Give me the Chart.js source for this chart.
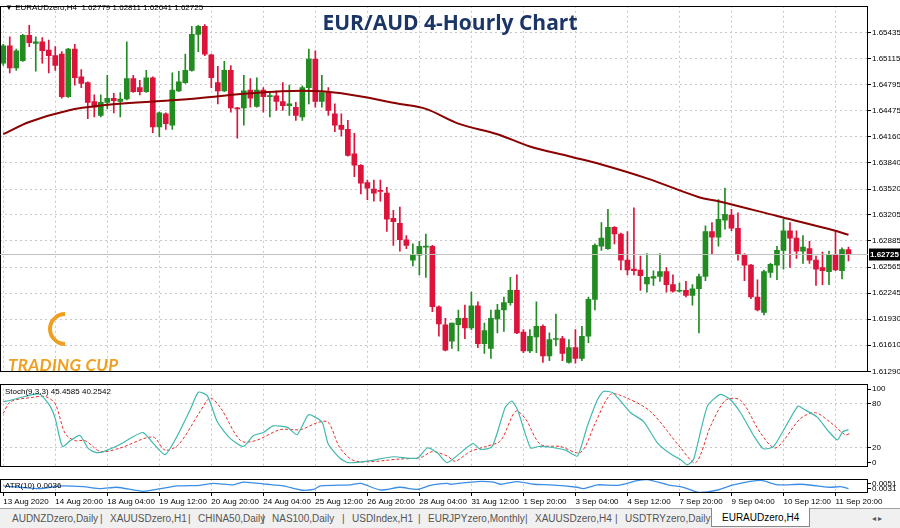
<!DOCTYPE html>
<html>
<head>
<meta charset="utf-8">
<script src="https://cdn.jsdelivr.net/npm/chart.js@4.4.1/dist/chart.umd.min.js"></script>
<style>
  body { margin:0; width:900px; height:528px; background:#fff; overflow:hidden; font-family:"Liberation Sans", sans-serif; }
  .cv { position:absolute; left:0; width:900px; }
  #title { position:absolute; left:0; width:900px; top:8px; text-align:center; font:bold 21px "Open Sans", sans-serif; color:#1b3566; }
  #hdr { position:absolute; left:5px; top:3px; font-size:8px; color:#000; }
  #logo { position:absolute; left:8px; top:354px; font:italic bold 17px "Lato", sans-serif; color:#f0a020; letter-spacing:0.3px; }
  #logoMark { position:absolute; left:48px; top:312px; width:26px; height:26px; border-radius:50%; border:4px solid #f0a020; border-right-color:transparent; border-top-color:transparent; transform:rotate(45deg); }
  #tabs { position:absolute; left:0; top:508px; width:900px; height:20px; background:#f0f0f0; border-top:1px solid #a0a0a0; font:10px "Liberation Sans", sans-serif; color:#555; }
  #tabs span { position:absolute; top:4px; }
  #tabs .act { top:-1px; background:#fff; border:1px solid #888; border-top:none; padding:4px 10px 3px 10px; color:#000; }
</style>
</head>
<body>
<canvas id="mainChart" class="cv" style="top:0;height:378px" width="900" height="378"></canvas>
<canvas id="stochChart" class="cv" style="top:378px;height:95px" width="900" height="95"></canvas>
<canvas id="atrChart" class="cv" style="top:473px;height:35px" width="900" height="35"></canvas>
<div id="hdr">▼ EURAUDzero,H4 &nbsp;1.62779 1.62811 1.62641 1.62725</div>
<div id="title">EUR/AUD 4-Hourly Chart</div>
<div id="logoMark"></div>
<div id="logo">TRADING CUP</div>
<div id="tabs"></div>
<script>
// ===== Data (4-hour candles, 13 Aug 2020 - 11 Sep 2020) =====
const openP = [1.6506,1.6527,1.6500,1.6509,1.6540,1.6530,1.6532,1.6522,1.6515,1.6517,1.6465,1.6523,1.6489,1.6482,1.6459,1.6442,1.6458,1.6463,1.6459,1.6462,
  1.6487,1.6476,1.6471,1.6488,1.6428,1.6444,1.6430,1.6472,1.6482,1.6497,1.6541,1.6551,1.6516,1.6482,1.6472,1.6497,1.6451,1.6451,1.6473,1.6453,
  1.6473,1.6465,1.6466,1.6459,1.6454,1.6452,1.6440,1.6476,1.6511,1.6459,1.6470,1.6444,1.6430,1.6425,1.6395,1.6381,1.6360,1.6352,1.6350,1.6347,
  1.6316,1.6310,1.6290,1.6265,1.6271,1.6281,1.6282,1.6208,1.6186,1.6166,1.6186,1.6194,1.6182,1.6209,1.6163,1.6157,1.6193,1.6204,1.6213,1.6228,
  1.6177,1.6154,1.6171,1.6184,1.6148,1.6168,1.6169,1.6140,1.6158,1.6145,1.6172,1.6217,1.6282,1.6279,1.6305,1.6297,1.6265,1.6254,1.6253,1.6236,
  1.6243,1.6245,1.6251,1.6235,1.6227,1.6228,1.6222,1.6230,1.6245,1.6300,1.6293,1.6314,1.6320,1.6304,1.6272,1.6259,1.6220,1.6201,1.6250,1.6259,
  1.6277,1.6301,1.6292,1.6276,1.6279,1.6265,1.6256,1.6251,1.6271,1.6252,1.62779];
const highP = [1.6529,1.6538,1.6523,1.6541,1.6552,1.6538,1.6537,1.6534,1.6526,1.6520,1.6524,1.6529,1.6498,1.6483,1.6467,1.6467,1.6491,1.6469,1.6470,1.6532,
  1.6491,1.6485,1.6497,1.6489,1.6446,1.6445,1.6494,1.6496,1.6517,1.6551,1.6552,1.6553,1.6517,1.6502,1.6508,1.6503,1.6452,1.6491,1.6487,1.6488,
  1.6476,1.6470,1.6472,1.6482,1.6479,1.6458,1.6478,1.6523,1.6521,1.6491,1.6476,1.6456,1.6444,1.6436,1.6420,1.6382,1.6363,1.6363,1.6363,1.6354,
  1.6326,1.6330,1.6295,1.6285,1.6288,1.6297,1.6283,1.6209,1.6194,1.6188,1.6204,1.6210,1.6226,1.6214,1.6188,1.6204,1.6211,1.6220,1.6244,1.6247,
  1.6180,1.6180,1.6214,1.6186,1.6176,1.6199,1.6172,1.6168,1.6180,1.6184,1.6220,1.6285,1.6311,1.6327,1.6306,1.6298,1.6300,1.6329,1.6270,1.6273,
  1.6252,1.6273,1.6256,1.6247,1.6237,1.6239,1.6235,1.6248,1.6307,1.6311,1.6339,1.6353,1.6327,1.6323,1.6273,1.6260,1.6241,1.6253,1.6261,1.6282,
  1.6315,1.6311,1.6301,1.6295,1.6288,1.6270,1.6275,1.6276,1.6300,1.6280,1.62811];
const lowP = [1.6503,1.6494,1.6497,1.6508,1.6526,1.6496,1.6506,1.6494,1.6497,1.6463,1.6464,1.6479,1.6476,1.6438,1.6440,1.6440,1.6450,1.6445,1.6440,1.6461,
  1.6470,1.6467,1.6470,1.6421,1.6416,1.6425,1.6425,1.6471,1.6481,1.6496,1.6520,1.6515,1.6476,1.6456,1.6471,1.6446,1.6414,1.6430,1.6452,1.6452,
  1.6446,1.6440,1.6448,1.6448,1.6442,1.6436,1.6436,1.6456,1.6452,1.6452,1.6442,1.6422,1.6417,1.6392,1.6367,1.6346,1.6339,1.6337,1.6337,1.6300,
  1.6283,1.6276,1.6279,1.6258,1.6247,1.6244,1.6202,1.6172,1.6154,1.6157,1.6154,1.6169,1.6180,1.6158,1.6151,1.6145,1.6176,1.6178,1.6210,1.6175,
  1.6152,1.6152,1.6152,1.6140,1.6142,1.6160,1.6142,1.6139,1.6139,1.6142,1.6164,1.6204,1.6277,1.6278,1.6285,1.6253,1.6247,1.6247,1.6228,1.6226,
  1.6234,1.6239,1.6226,1.6226,1.6226,1.6220,1.6210,1.6176,1.6240,1.6272,1.6282,1.6303,1.6301,1.6265,1.6240,1.6218,1.6203,1.6198,1.6244,1.6241,
  1.6254,1.6256,1.6267,1.6261,1.6261,1.6234,1.6235,1.6235,1.6252,1.6242,1.62641];
const closeP = [1.6527,1.6500,1.6521,1.6540,1.6531,1.6532,1.6521,1.6515,1.6503,1.6465,1.6523,1.6488,1.6481,1.6458,1.6452,1.6458,1.6463,1.6460,1.6462,1.6487,
  1.6471,1.6471,1.6488,1.6428,1.6445,1.6432,1.6473,1.6483,1.6497,1.6541,1.6551,1.6517,1.6488,1.6472,1.6497,1.6451,1.6450,1.6472,1.6463,1.6473,
  1.6465,1.6466,1.6459,1.6454,1.6456,1.6442,1.6476,1.6511,1.6459,1.6470,1.6448,1.6430,1.6425,1.6393,1.6381,1.6359,1.6353,1.6347,1.6349,1.6315,
  1.6312,1.6290,1.6283,1.6272,1.6282,1.6282,1.6208,1.6187,1.6155,1.6188,1.6194,1.6182,1.6209,1.6163,1.6179,1.6194,1.6204,1.6213,1.6228,1.6176,
  1.6154,1.6172,1.6184,1.6148,1.6168,1.6169,1.6151,1.6158,1.6145,1.6172,1.6217,1.6283,1.6292,1.6305,1.6297,1.6265,1.6253,1.6252,1.6246,1.6244,
  1.6245,1.6251,1.6235,1.6227,1.6228,1.6222,1.6230,1.6245,1.6300,1.6293,1.6315,1.6321,1.6304,1.6272,1.6259,1.6220,1.6204,1.6251,1.6260,1.6277,
  1.6301,1.6292,1.6276,1.6281,1.6265,1.6254,1.6252,1.6271,1.6253,1.6278,1.62725];

// moving average (bar index, price)
const maIdx = [0,4,10,15,23,30,38,46,52,61,65,70,76,81,87,92,99,107,110,119,127,130];
const maVal = [1.6419,1.6434,1.6448,1.6454,1.6459,1.6463,1.6469,1.6472,1.6469,1.6456,1.6450,1.6432,1.6419,1.6404,1.6392,1.6382,1.6365,1.6342,1.6337,1.6319,1.6303,1.6296];

// Stochastic %K and %D (bar index, value)
const stochKIdx = [0,1.1,4.6,5.7,7.2,8,9.1,10.3,11.8,13.1,14.2,15.4,18,19.5,21.5,23,24.9,26.8,28.8,30,31.4,32.9,34.9,36.9,38.5,40,41.5,43.7,45.2,46.9,48,49.1,50,51.8,53,56,60,63.7,65.2,66.8,68.3,
  72.2,73.4,75.2,77.2,78.2,79.1,81.1,82.3,84.2,86.5,88.3,89.8,91.4,92.3,93.8,96.5,98.5,100.6,102.6,104.2,105.2,106.2,108.3,110.3,111.8,113.4,115.4,116.9,118.5,122.2,123.1,125.2,126.8,128.3,129.1,130];
const stochKVal = [83,85,93,93,77,60,22,30,37,19,14,15,25,33,41,27,11,37,73,96,91,56,33,22,37,41,50,48,38,65,62,54,25,6,0,2,8,6,20,13,0,
  26,18,22,75,84,72,20,22,21,17,9,49,86,97,95,68,56,27,12,4,-3,5,77,93,86,68,37,19,22,77,73,62,44,31,42,45];
const stochDIdx = [0,1.1,4.6,6.5,8,9.5,11,12.6,15,18,23,24.9,27,30.3,31.8,33.4,36.5,38.8,42.6,45.7,48.5,50,51.8,54.2,61.1,64.2,66,68.3,69.5,71.8,74.2,76.5,78.8,80.3,82.6,85.7,88.8,91.1,93.4,95.4,99.5,104.2,106.5,108.8,111.1,113.4,116.5,118.8,122.6,124.9,127.2,129.5,130.3];
const stochDVal = [67,83,89,90,80,40,30,30,15,20,35,17,25,70,88,75,30,30,45,45,55,55,20,2,5,7,15,9,2,15,22,30,70,60,25,22,14,55,93,90,70,20,0,50,85,85,40,20,60,68,55,38,40];

// ATR(10) (bar index, value)
const atrIdx = [0,2.6,5.7,8.8,12.3,15,17.5,21.5,24.2,26.8,30.3,32.3,35.4,37,40.6,43.1,45.7,47.7,48.8,53.4,55,58,61,63.7,65.7,68.3,68.8,72.9,75.4,76.5,79.1,81.6,84.2,88.3,89.2,91.4,94.5,97.5,99.1,102.2,104.6,107,109.9,112.3,116.5,119.1,122.6,125.2,127.2,128.8,130];
const atrVal = [0.0042,0.0037,0.0032,0.0042,0.0039,0.0032,0.0037,0.0022,0.0032,0.0042,0.0044,0.0051,0.0046,0.0056,0.0048,0.0042,0.0027,0.0029,0.0042,0.0046,0.0051,0.0027,0.0037,0.0029,0.0044,0.0051,
  0.0048,0.0058,0.0056,0.0048,0.0058,0.0048,0.0046,0.0037,0.0032,0.0046,0.0044,0.0061,0.0065,0.0046,0.0037,0.0018,0.0027,0.0046,0.0062,0.0046,0.0048,0.0042,0.0037,0.0039,0.0032];

// Axis labels
const priceTicks = [1.65435,1.65115,1.64795,1.64475,1.64160,1.63840,1.63520,1.63205,1.62885,1.62565,1.62245,1.61930,1.61610,1.61290];
const dateIdx = [0,8,16,24,32,40,48,56,64,72,80,88,96,104,112,120,128];
const dateLabels = ['13 Aug 2020','14 Aug 20:00','18 Aug 04:00','19 Aug 12:00','20 Aug 20:00','24 Aug 04:00','25 Aug 12:00','26 Aug 20:00',
  '28 Aug 04:00','31 Aug 12:00','1 Sep 20:00','3 Sep 04:00','4 Sep 12:00','7 Sep 20:00','9 Sep 04:00','10 Sep 12:00','11 Sep 20:00'];
const stochTicks = [0,20,80,100];
const atrTicks = [0.0051,0.0031];
const lastPrice = 1.62725;
const tabNames = ['AUDNZDzero,Daily','XAUUSDzero,H1','CHINA50,Daily','NAS100,Daily','USDIndex,H1','EURJPYzero,Monthly','XAUUSDzero,H4','USDTRYzero,Daily'];

(function(){
  const GREEN = '#228b22', RED = '#dc143c';
  const FONT = { family: 'Liberation Sans', size: 8 };
  const X_MIN = -0.5, X_MAX = 133;
  const grid = { color: '#c8c8c8', lineWidth: 1 };
  const dash = { display: false, dash: [2, 3] };

  const frame = {
    id: 'frame',
    afterDraw(chart){
      const { ctx, chartArea: a } = chart;
      ctx.save();
      ctx.strokeStyle = '#000';
      ctx.lineWidth = 1;
      ctx.strokeRect(Math.round(a.left) + 0.5, Math.round(a.top) + 0.5, Math.round(a.right - a.left) - 1, Math.round(a.bottom - a.top) - 1);
      ctx.restore();
    }
  };

  const xAxis = (showLabels) => ({
    type: 'linear', min: X_MIN, max: X_MAX, offset: false,
    grid: { ...grid, offset: false, drawTicks: showLabels, tickLength: 3, tickColor: '#000' },
    border: dash,
    afterBuildTicks: s => { s.ticks = dateIdx.map(v => ({ value: v })); },
    afterFit: s => { s.height = showLabels ? 15 : 0; },
    ticks: {
      display: showLabels, autoSkip: false, maxRotation: 0, align: 'start', padding: 1,
      font: FONT, color: '#000',
      callback: v => dateLabels[dateIdx.indexOf(v)]
    }
  });

  const yAxis = (min, max, ticks, fmt, gridOn) => ({
    position: 'right', min, max,
    grid: { ...grid, drawTicks: true, tickLength: 3, tickColor: '#000',
      color: c => (gridOn(c.tick && c.tick.value) ? '#c8c8c8' : 'rgba(0,0,0,0)') },
    border: dash,
    afterBuildTicks: s => { s.ticks = ticks.map(v => ({ value: v })); },
    afterFit: s => { s.width = 32; },
    ticks: { font: FONT, color: '#000', padding: 1, callback: fmt }
  });

  const base = {
    responsive: false, animation: false,
    plugins: { legend: { display: false }, tooltip: { enabled: false } }
  };

  // price line + label
  const lastPriceTag = {
    id: 'lastPriceTag',
    afterDraw(chart){
      const { ctx, chartArea: a } = chart;
      const y = Math.round(chart.scales.y.getPixelForValue(lastPrice)) + 0.5;
      ctx.save();
      ctx.strokeStyle = '#c0c0c0';
      ctx.beginPath(); ctx.moveTo(a.left, y); ctx.lineTo(a.right, y); ctx.stroke();
      ctx.fillStyle = '#000';
      ctx.fillRect(a.right + 1, y - 6, 31, 12);
      ctx.fillStyle = '#fff';
      ctx.font = 'bold 8px "Liberation Sans"';
      ctx.textBaseline = 'middle';
      ctx.fillText(lastPrice.toFixed(5), a.right + 2, y);
      ctx.restore();
    }
  };

  const up = closeP.map((c, i) => c >= openP[i]);
  new Chart(document.getElementById('mainChart'), {
    type: 'bar',
    data: {
      datasets: [
        { type: 'line', order: 1, data: maIdx.map((x, i) => ({ x, y: maVal[i] })),
          borderColor: '#8b0000', borderWidth: 2, pointRadius: 0, tension: 0.35 },
        { order: 2, grouped: false, barThickness: 5, minBarLength: 1,
          data: openP.map((o, i) => ({ x: i, y: [o, closeP[i]] })),
          backgroundColor: up.map(u => u ? GREEN : RED) },
        { order: 3, grouped: false, barThickness: 1,
          data: lowP.map((l, i) => ({ x: i, y: [l, highP[i]] })),
          backgroundColor: up.map(u => u ? GREEN : RED) }
      ]
    },
    options: {
      ...base,
      layout: { padding: { top: 1, bottom: 1 } },
      scales: {
        x: xAxis(false),
        y: yAxis(1.6128, 1.6576, priceTicks, v => v.toFixed(5), () => true)
      }
    },
    plugins: [frame, lastPriceTag]
  });

  const stochTitle = {
    id: 'stochTitle',
    afterDraw(chart){
      const { ctx, chartArea: a } = chart;
      ctx.save(); ctx.font = '8px "Liberation Sans"'; ctx.fillStyle = '#000';
      ctx.fillText('Stoch(9,3,3) 45.4585 40.2542', a.left + 5, a.top + 10);
      ctx.restore();
    }
  };
  new Chart(document.getElementById('stochChart'), {
    type: 'line',
    data: {
      datasets: [
        { data: stochKIdx.map((x, i) => ({ x, y: stochKVal[i] })), borderColor: '#40b8ae', borderWidth: 1.2, pointRadius: 0, tension: 0.2 },
        { data: stochDIdx.map((x, i) => ({ x, y: stochDVal[i] })), borderColor: '#e8302a', borderWidth: 1, borderDash: [3, 2], pointRadius: 0, tension: 0.3 }
      ]
    },
    options: {
      ...base,
      layout: { padding: { top: 2, bottom: 1 } },
      scales: {
        x: xAxis(false),
        y: yAxis(-6.2, 107.4, stochTicks, v => String(v), v => v === 20 || v === 80)
      }
    },
    plugins: [frame, stochTitle]
  });

  const atrTitle = {
    id: 'atrTitle',
    afterDraw(chart){
      const { ctx, chartArea: a } = chart;
      ctx.save(); ctx.font = '8px "Liberation Sans"'; ctx.fillStyle = '#000';
      ctx.fillText('ATR(10) 0.0036', a.left + 5, a.top + 9);
      ctx.restore();
    }
  };
  new Chart(document.getElementById('atrChart'), {
    type: 'line',
    data: {
      datasets: [
        { data: atrIdx.map((x, i) => ({ x, y: atrVal[i] })), borderColor: '#3a8ee8', borderWidth: 1.3, pointRadius: 0, tension: 0.2 }
      ]
    },
    options: {
      ...base,
      layout: { padding: { top: 1 } },
      scales: {
        x: xAxis(true),
        y: yAxis(0.0016, 0.0068, atrTicks, v => v.toFixed(4), () => false)
      }
    },
    plugins: [frame, atrTitle]
  });

  // terminal tabs
  const tabs = document.getElementById('tabs');
  const tabX = [12, 110, 198, 272, 352, 428, 535, 625];
  const sepX = [100, 188, 262, 342, 418, 525, 615];
  tabNames.forEach((t, i) => {
    const s = document.createElement('span');
    s.style.left = tabX[i] + 'px'; s.textContent = t;
    tabs.appendChild(s);
  });
  sepX.forEach(x => {
    const sep = document.createElement('span');
    sep.style.left = x + 'px'; sep.textContent = '|';
    tabs.appendChild(sep);
  });
  const act = document.createElement('span');
  act.className = 'act'; act.style.left = '711px'; act.textContent = 'EURAUDzero,H4';
  tabs.appendChild(act);
  const arr = document.createElement('span');
  arr.style.left = '872px'; arr.style.fontSize = '8px'; arr.style.top = '5px'; arr.textContent = '◂  ▸';
  tabs.appendChild(arr);
})();
</script>
</body>
</html>
